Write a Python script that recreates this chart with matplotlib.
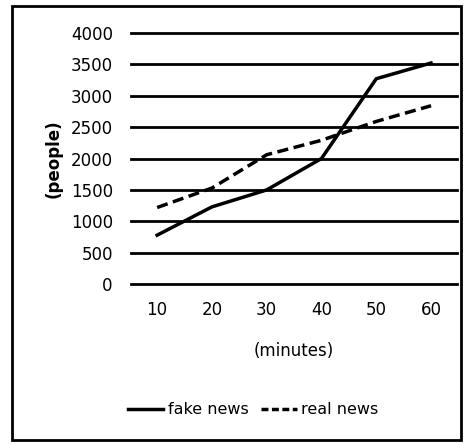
import matplotlib
matplotlib.use("Agg")
import matplotlib.pyplot as plt
from matplotlib.patches import Rectangle
from matplotlib.lines import Line2D

minutes = [10, 20, 30, 40, 50, 60]
fake_news = [780, 1230, 1500, 2000, 3270, 3520]
real_news = [1220, 1530, 2060, 2290, 2590, 2840]
yticks = [0, 500, 1000, 1500, 2000, 2500, 3000, 3500, 4000]

fig = plt.figure(figsize=(4.69, 4.44), dpi=100)
ax = fig.add_axes([0.279, 0.360, 0.695, 0.566])

for y in yticks:
    ax.axhline(y, color='black', lw=2, zorder=1, clip_on=False)

ax.plot(minutes, fake_news, color='black', lw=2.5, solid_joinstyle='miter', zorder=3)
ax.plot(minutes, real_news, color='black', lw=2.5, dashes=(3.2, 1.6), zorder=3)

ax.set_xlim(5.2, 64.7)
ax.set_ylim(0, 4000)
ax.set_xticks(minutes)
ax.set_yticks(yticks)
ax.tick_params(length=0, labelsize=12)
ax.tick_params(axis='x', pad=12)
ax.tick_params(axis='y', pad=13)
for s in ax.spines.values():
    s.set_visible(False)
ax.patch.set_visible(False)
for lab in ax.get_xticklabels() + ax.get_yticklabels():
    lab.set_fontweight('medium')

ax.set_xlabel('(minutes)', fontsize=12, labelpad=17)
ax.set_ylabel('(people)', fontsize=12, fontweight='bold', labelpad=6)

handles = [Line2D([], [], color='black', lw=2.5),
           Line2D([], [], color='black', lw=2.5, dashes=(2, 1))]
fig.legend(handles, ['fake news', 'real news'], loc='center',
           bbox_to_anchor=(0.54, 0.077), ncol=2, frameon=False, fontsize=11.5,
           handlelength=2.2, handletextpad=0.3, columnspacing=0.8)

fig.patches.append(Rectangle((0.026, 0.009), 0.958, 0.977, transform=fig.transFigure,
                             fill=False, edgecolor='black', lw=2))

fig.savefig('out.png', dpi=100)
